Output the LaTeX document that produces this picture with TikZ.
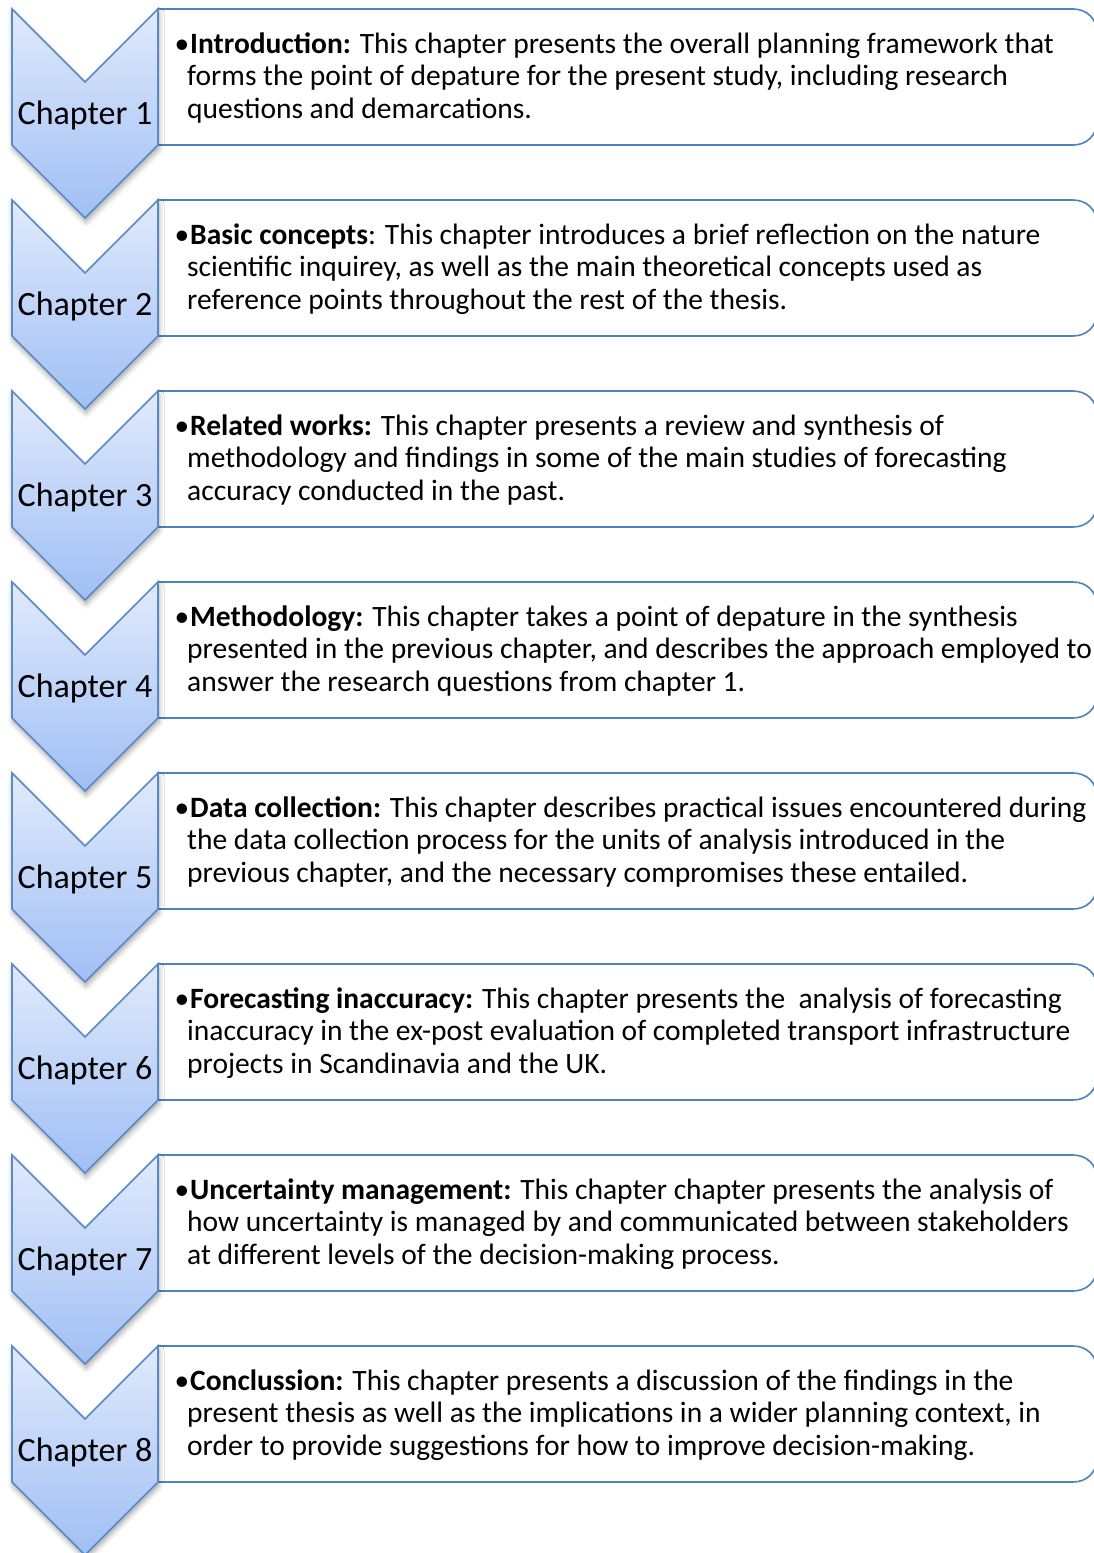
\documentclass[tikz,border=0pt]{standalone}
\usepackage{fontspec}
\setmainfont{Carlito}
\usetikzlibrary{shadows.blur}
\definecolor{chevtop}{HTML}{E0EAFC}
\definecolor{chevbot}{HTML}{A0BFF4}
\definecolor{chevline}{HTML}{5A89C6}
\definecolor{boxline}{HTML}{4F81BD}
\tikzset{
  chevron/.style={draw=chevline, line width=1.6pt, line join=miter, top color=chevtop, bottom color=chevbot,
    blur shadow={shadow xshift=1pt, shadow yshift=-4pt, shadow blur radius=5pt, shadow opacity=35}},
  textbox/.style={draw=boxline, line width=1.6pt, fill=white},
  chaplabel/.style={font=\fontsize{34}{40}\selectfont, inner sep=0pt, anchor=base},
  bodytext/.style={font=\fontsize{29.5}{32.5}\selectfont, inner sep=0pt, anchor=base west, align=left}
}
\newcommand{\bul}{\llap{•\kern-2pt}\kern3pt}
\begin{document}
\begin{tikzpicture}[x=1pt, y=-1pt]
\useasboundingbox (0,0) rectangle (1094,1553);
\foreach \i in {0,...,7}{
  \pgfmathsetmacro{\t}{9+191*\i}
  \pgfmathsetmacro{\b}{\t+136}
  \draw[textbox] (158,\t) -- (1073,\t) .. controls (1087,\t) and (1097,\t+10) .. (1097,\t+24)
     -- (1097,\b-24) .. controls (1097,\b-10) and (1087,\b) .. (1073,\b) -- (158,\b) -- cycle;
}
\foreach \i in {0,...,7}{
  \pgfmathsetmacro{\t}{9+191*\i}
  \draw[chevron] (12,\t) -- (85,\t+73) -- (158,\t) -- (158,\t+136) -- (85,\t+209) -- (12,\t+136) -- cycle;
}
\node[chaplabel] (ch1) at (85,124) {Chapter 1};
\node[chaplabel] (ch2) at (85,315) {Chapter 2};
\node[chaplabel] (ch3) at (85,506) {Chapter 3};
\node[chaplabel] (ch4) at (85,697) {Chapter 4};
\node[chaplabel] (ch5) at (85,888) {Chapter 5};
\node[chaplabel] (ch6) at (85,1079) {Chapter 6};
\node[chaplabel] (ch7) at (85,1270) {Chapter 7};
\node[chaplabel] (ch8) at (85,1461) {Chapter 8};

\node[bodytext] (t1) at (187,118) {\bul\textbf{Introduction:} This chapter presents the overall planning framework that\\forms the point of depature for the present study, including research\\questions and demarcations.};
\node[bodytext] (t2) at (187,309) {\bul\textbf{Basic concepts}: This chapter introduces a brief reflection on the nature\\scientific inquirey, as well as the main theoretical concepts used as\\reference points throughout the rest of the thesis.};
\node[bodytext] (t3) at (187,500) {\bul\textbf{Related works:} This chapter presents a review and synthesis of\\methodology and findings in some of the main studies of forecasting\\accuracy conducted in the past.};
\node[bodytext] (t4) at (187,691) {\bul\textbf{Methodology:} This chapter takes a point of depature in the synthesis\\presented in the previous chapter, and describes the approach employed to\\answer the research questions from chapter 1.};
\node[bodytext] (t5) at (187,882) {\bul\textbf{Data collection:} This chapter describes practical issues encountered during\\the data collection process for the units of analysis introduced in the\\previous chapter, and the necessary compromises these entailed.};
\node[bodytext] (t6) at (187,1073) {\bul\textbf{Forecasting inaccuracy:} This chapter presents the\ \ analysis of forecasting\\inaccuracy in the ex-post evaluation of completed transport infrastructure\\projects in Scandinavia and the UK.};
\node[bodytext] (t7) at (187,1264) {\bul\textbf{Uncertainty management:} This chapter chapter presents the analysis of\\how uncertainty is managed by and communicated between stakeholders\\at different levels of the decision-making process.};
\node[bodytext] (t8) at (187,1455) {\bul\textbf{Conclussion:} This chapter presents a discussion of the findings in the\\present thesis as well as the implications in a wider planning context, in\\order to provide suggestions for how to improve decision-making.};
\end{tikzpicture}
\end{document}
